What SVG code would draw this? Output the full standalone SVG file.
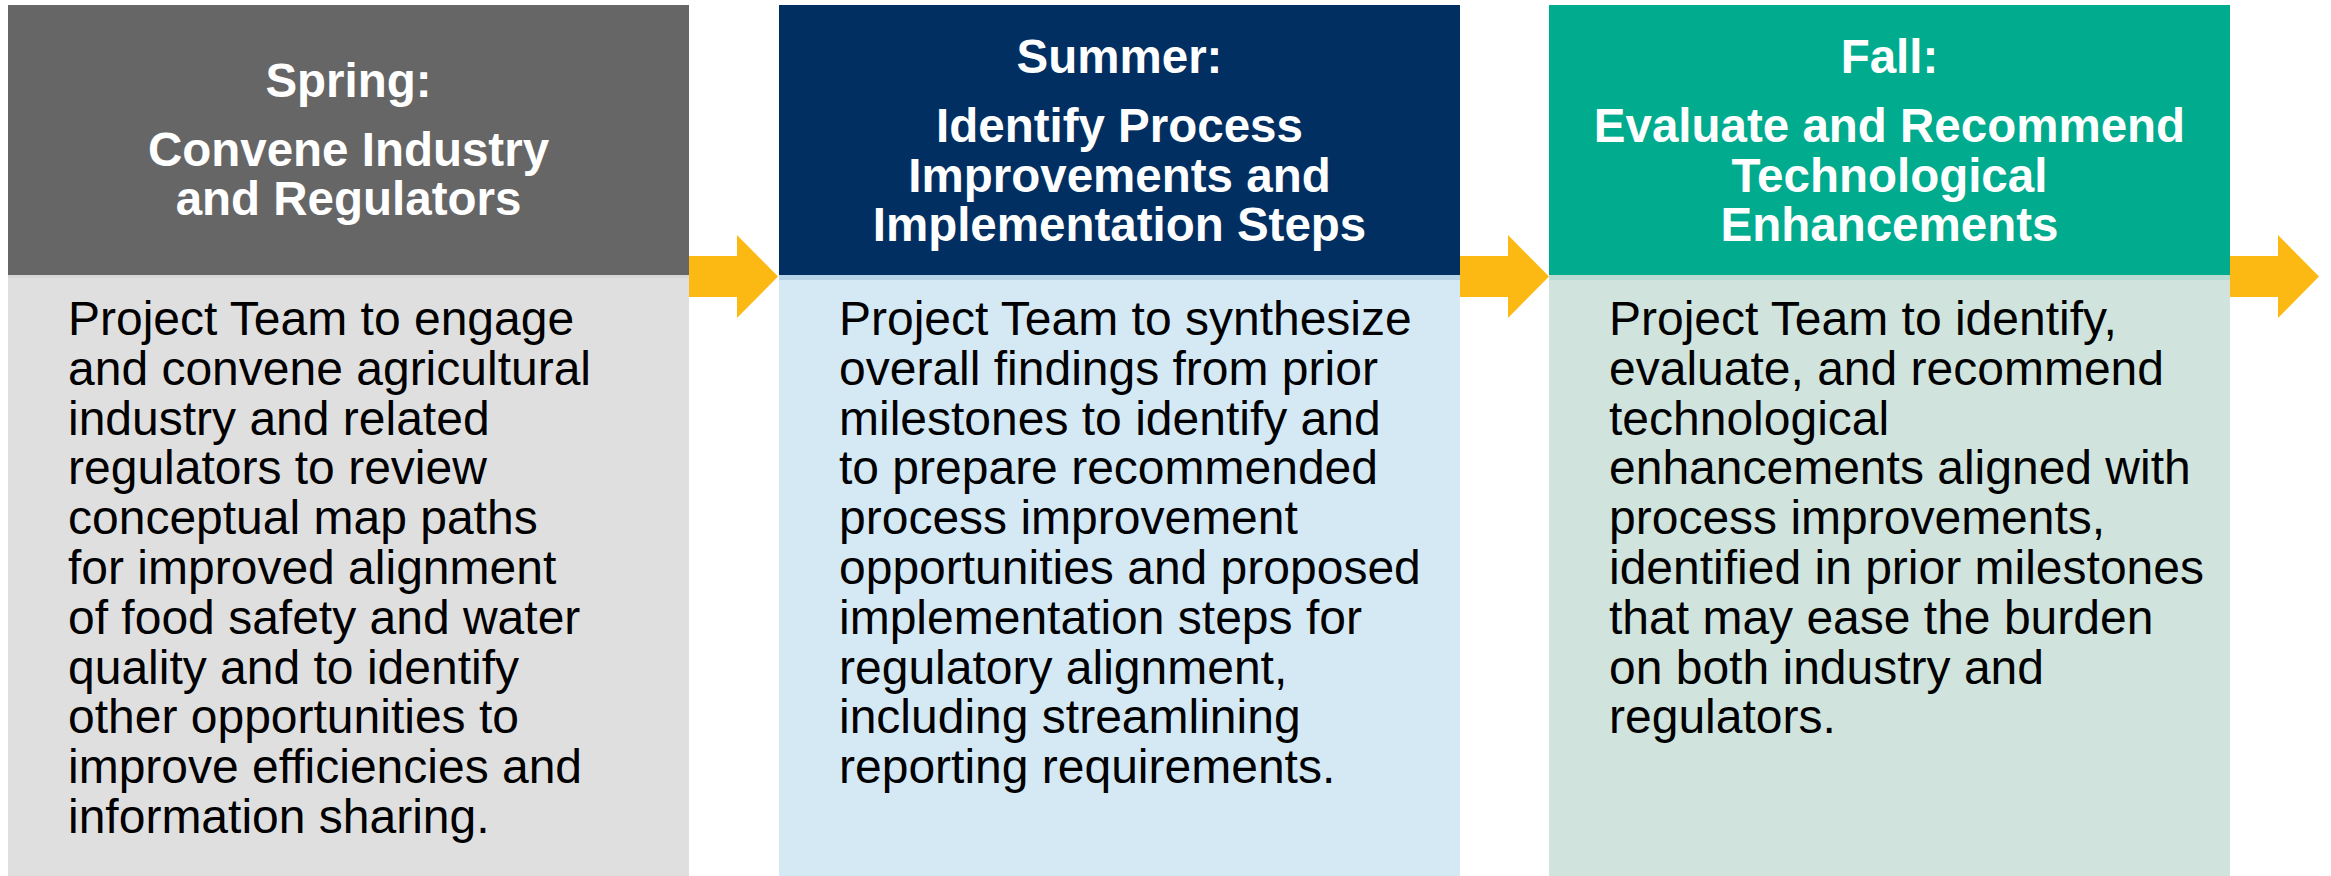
<svg xmlns="http://www.w3.org/2000/svg" width="2331" height="876" viewBox="0 0 2331 876">
  <style>
    .title { font-family: "Liberation Sans", Arial, sans-serif; font-weight: bold; font-size: 47.5px; fill: #FFFFFF; text-anchor: middle; }
    .body { font-family: "Liberation Sans", Arial, sans-serif; font-size: 48px; fill: #000000; }
    .arrow { fill: #FDB913; }
  </style>
  <rect x="0" y="0" width="2331" height="876" fill="#FFFFFF"/>

  <g id="spring">
    <rect x="8" y="5" width="681" height="270" fill="#666666"/>
    <rect x="8" y="275" width="681" height="601" fill="#DFDFDF"/>
    <rect x="8" y="275" width="681" height="3" fill="#D7D7D7"/>
    <text class="title" x="348.5" y="97">Spring:</text>
    <text class="title" x="348.5" y="166">Convene Industry</text>
    <text class="title" x="348.5" y="215">and Regulators</text>
    <text class="body" x="68" y="335">
      <tspan x="68" dy="0">Project Team to engage</tspan>
      <tspan x="68" dy="49.8">and convene agricultural</tspan>
      <tspan x="68" dy="49.8">industry and related</tspan>
      <tspan x="68" dy="49.8">regulators to review</tspan>
      <tspan x="68" dy="49.8">conceptual map paths</tspan>
      <tspan x="68" dy="49.8">for improved alignment</tspan>
      <tspan x="68" dy="49.8">of food safety and water</tspan>
      <tspan x="68" dy="49.8">quality and to identify</tspan>
      <tspan x="68" dy="49.8">other opportunities to</tspan>
      <tspan x="68" dy="49.8">improve efficiencies and</tspan>
      <tspan x="68" dy="49.8">information sharing.</tspan>
    </text>
  </g>

  <g id="summer">
    <rect x="779" y="5" width="681" height="270" fill="#012F62"/>
    <rect x="779" y="275" width="681" height="601" fill="#D5E9F5"/>
    <rect x="779" y="275" width="681" height="5" fill="#B7D3E8"/>
    <text class="title" x="1119.5" y="73">Summer:</text>
    <text class="title" x="1119.5" y="142">Identify Process</text>
    <text class="title" x="1119.5" y="192">Improvements and</text>
    <text class="title" x="1119.5" y="241">Implementation Steps</text>
    <text class="body" x="839" y="335">
      <tspan x="839" dy="0">Project Team to synthesize</tspan>
      <tspan x="839" dy="49.8">overall findings from prior</tspan>
      <tspan x="839" dy="49.8">milestones to identify and</tspan>
      <tspan x="839" dy="49.8">to prepare recommended</tspan>
      <tspan x="839" dy="49.8">process improvement</tspan>
      <tspan x="839" dy="49.8">opportunities and proposed</tspan>
      <tspan x="839" dy="49.8">implementation steps for</tspan>
      <tspan x="839" dy="49.8">regulatory alignment,</tspan>
      <tspan x="839" dy="49.8">including streamlining</tspan>
      <tspan x="839" dy="49.8">reporting requirements.</tspan>
    </text>
  </g>

  <g id="fall">
    <rect x="1549" y="5" width="681" height="270" fill="#00AB8E"/>
    <rect x="1549" y="275" width="681" height="601" fill="#D0E4DD"/>
    <rect x="1549" y="275" width="681" height="5" fill="#B8DCD1"/>
    <text class="title" x="1889.5" y="73">Fall:</text>
    <text class="title" x="1889.5" y="142">Evaluate and Recommend</text>
    <text class="title" x="1889.5" y="192">Technological</text>
    <text class="title" x="1889.5" y="241">Enhancements</text>
    <text class="body" x="1609" y="335">
      <tspan x="1609" dy="0">Project Team to identify,</tspan>
      <tspan x="1609" dy="49.8">evaluate, and recommend</tspan>
      <tspan x="1609" dy="49.8">technological</tspan>
      <tspan x="1609" dy="49.8">enhancements aligned with</tspan>
      <tspan x="1609" dy="49.8">process improvements,</tspan>
      <tspan x="1609" dy="49.8">identified in prior milestones</tspan>
      <tspan x="1609" dy="49.8">that may ease the burden</tspan>
      <tspan x="1609" dy="49.8">on both industry and</tspan>
      <tspan x="1609" dy="49.8">regulators.</tspan>
    </text>
  </g>

  <g id="connectors">
    <polygon class="arrow" points="689,256 737,256 737,235 778,276.5 737,318 737,297 689,297"/>
    <polygon class="arrow" points="1460,256 1508,256 1508,235 1549,276.5 1508,318 1508,297 1460,297"/>
    <polygon class="arrow" points="2230,256 2278,256 2278,235 2319,276.5 2278,318 2278,297 2230,297"/>
  </g>
</svg>
